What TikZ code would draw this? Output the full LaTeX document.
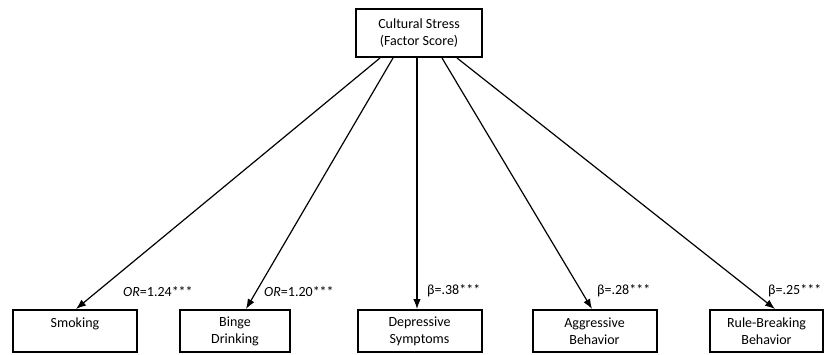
\documentclass[tikz,border=0pt]{standalone}
\usepackage{fontspec}
\setmainfont{Carlito}
\usetikzlibrary{arrows.meta}
\begin{document}
\begin{tikzpicture}[x=1pt,y=1pt]
  \useasboundingbox (0,0) rectangle (826,354);
  \begin{scope}[every node/.style={rectangle,draw,line width=2pt,align=center,inner sep=0pt,
      minimum height=42pt,font=\fontsize{14}{17}\selectfont}]
    \node[minimum width=126pt,minimum height=48pt] (stress) at (419,321) {Cultural Stress\\(Factor Score)};
    \node[minimum width=124pt] (smk) at (75,23) {Smoking\\~};
    \node[minimum width=110pt] (binge) at (235,23) {Binge\\Drinking};
    \node[minimum width=124pt] (dep) at (419.5,23) {Depressive\\Symptoms};
    \node[minimum width=124pt] (agg) at (594.5,23) {Aggressive\\Behavior};
    \node[minimum width=113pt] (rule) at (766.5,23) {Rule-Breaking\\Behavior};
  \end{scope}
  \begin{scope}[every edge/.style={draw=black,line width=1.2pt,-{Latex[length=10pt,width=7.5pt]}}]
    \path ([xshift=-39pt]stress.south) edge ([xshift=1pt]smk.north);
    \path ([xshift=-26pt]stress.south) edge ([xshift=11pt]binge.north);
    \path ([xshift=-2pt]stress.south) edge ([xshift=-2.5pt]dep.north);
    \path ([xshift=23pt]stress.south) edge ([xshift=-2.5pt]agg.north);
    \path ([xshift=38pt]stress.south) edge ([xshift=8.5pt]rule.north);
  \end{scope}
  \begin{scope}[every node/.style={anchor=west,inner sep=0pt,font=\fontsize{14}{17}\selectfont}]
    \node (orsmk) at (123,62) {\textit{OR}=1.24***};
    \node (orbinge) at (264,62) {\textit{OR}=1.20***};
    \node (bdep) at (427,63) {β=.38***};
    \node (bagg) at (597,63) {β=.28***};
    \node (brule) at (768,63) {β=.25***};
  \end{scope}
\end{tikzpicture}
\end{document}
